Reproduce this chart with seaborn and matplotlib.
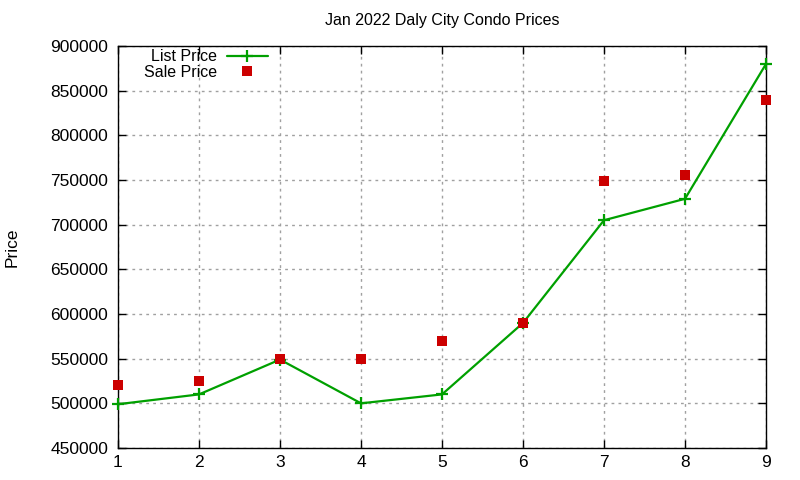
import matplotlib
matplotlib.use('Agg')
import matplotlib.pyplot as plt
from matplotlib.lines import Line2D
import pandas as pd
import seaborn as sns

# data
listing = [1, 2, 3, 4, 5, 6, 7, 8, 9]
list_price = [499000, 510000, 549000, 500000, 510000, 590000, 705000, 729000, 880000]
sale_price = [520000, 525000, 550000, 550000, 570000, 590000, 749000, 756000, 840000]

df = pd.DataFrame({'n': listing, 'list': list_price, 'sale': sale_price})

green = '#00a000'
red = '#cc0000'

sns.set_theme(style='ticks')
plt.rcParams['font.family'] = ['Liberation Sans', 'DejaVu Sans']
plt.rcParams['text.color'] = 'black'
plt.rcParams['axes.labelcolor'] = 'black'

fig = plt.figure(figsize=(8, 4.8), dpi=100)
ax = fig.add_axes([0.1475, 0.0667, 0.81, 0.8373])

sns.lineplot(data=df, x='n', y='list', ax=ax, color=green, linewidth=1.6,
             marker='+', markersize=9, markeredgewidth=1.6, markeredgecolor=green,
             clip_on=False, legend=False, zorder=3)
sns.scatterplot(data=df, x='n', y='sale', ax=ax, color=red, marker='s',
                s=45, linewidth=0, clip_on=False, legend=False, zorder=4)

ax.set_xlim(1, 9)
ax.set_ylim(450000, 900000)
ax.set_xticks(range(1, 10))
ax.set_yticks(range(450000, 900001, 50000))
ax.tick_params(direction='in', length=6, width=1, labelsize=12.5, colors='black',
               top=True, right=True, pad=7)
ax.tick_params(axis='x', pad=5)
ax.grid(True, color='#a0a0a0', linestyle=(0, (2, 3)), linewidth=1)
for s in ax.spines.values():
    s.set_color('black')
    s.set_linewidth(1)

ax.set_xlabel('')
ax.set_ylabel('Price', fontsize=12.5, color='black')
ax.yaxis.set_label_coords(-0.152, 0.5)
ax.set_title('Jan 2022 Daly City Condo Prices', fontsize=11.5, pad=15, color='black')

handles = [
    Line2D([], [], color=green, linewidth=1.6, marker='+', markersize=9,
           markeredgewidth=1.6),
    Line2D([], [], color=red, linestyle='none', marker='s', markersize=6.5,
           markeredgewidth=0),
]
leg = ax.legend(handles, ['List Price', 'Sale Price'], loc='upper left',
                bbox_to_anchor=(0.03, 1.008), frameon=False, markerfirst=False,
                handlelength=2.6, handletextpad=0.6, borderaxespad=0.0,
                labelspacing=0.05, fontsize=11.5, labelcolor='black')

fig.savefig('out.png', dpi=100)
